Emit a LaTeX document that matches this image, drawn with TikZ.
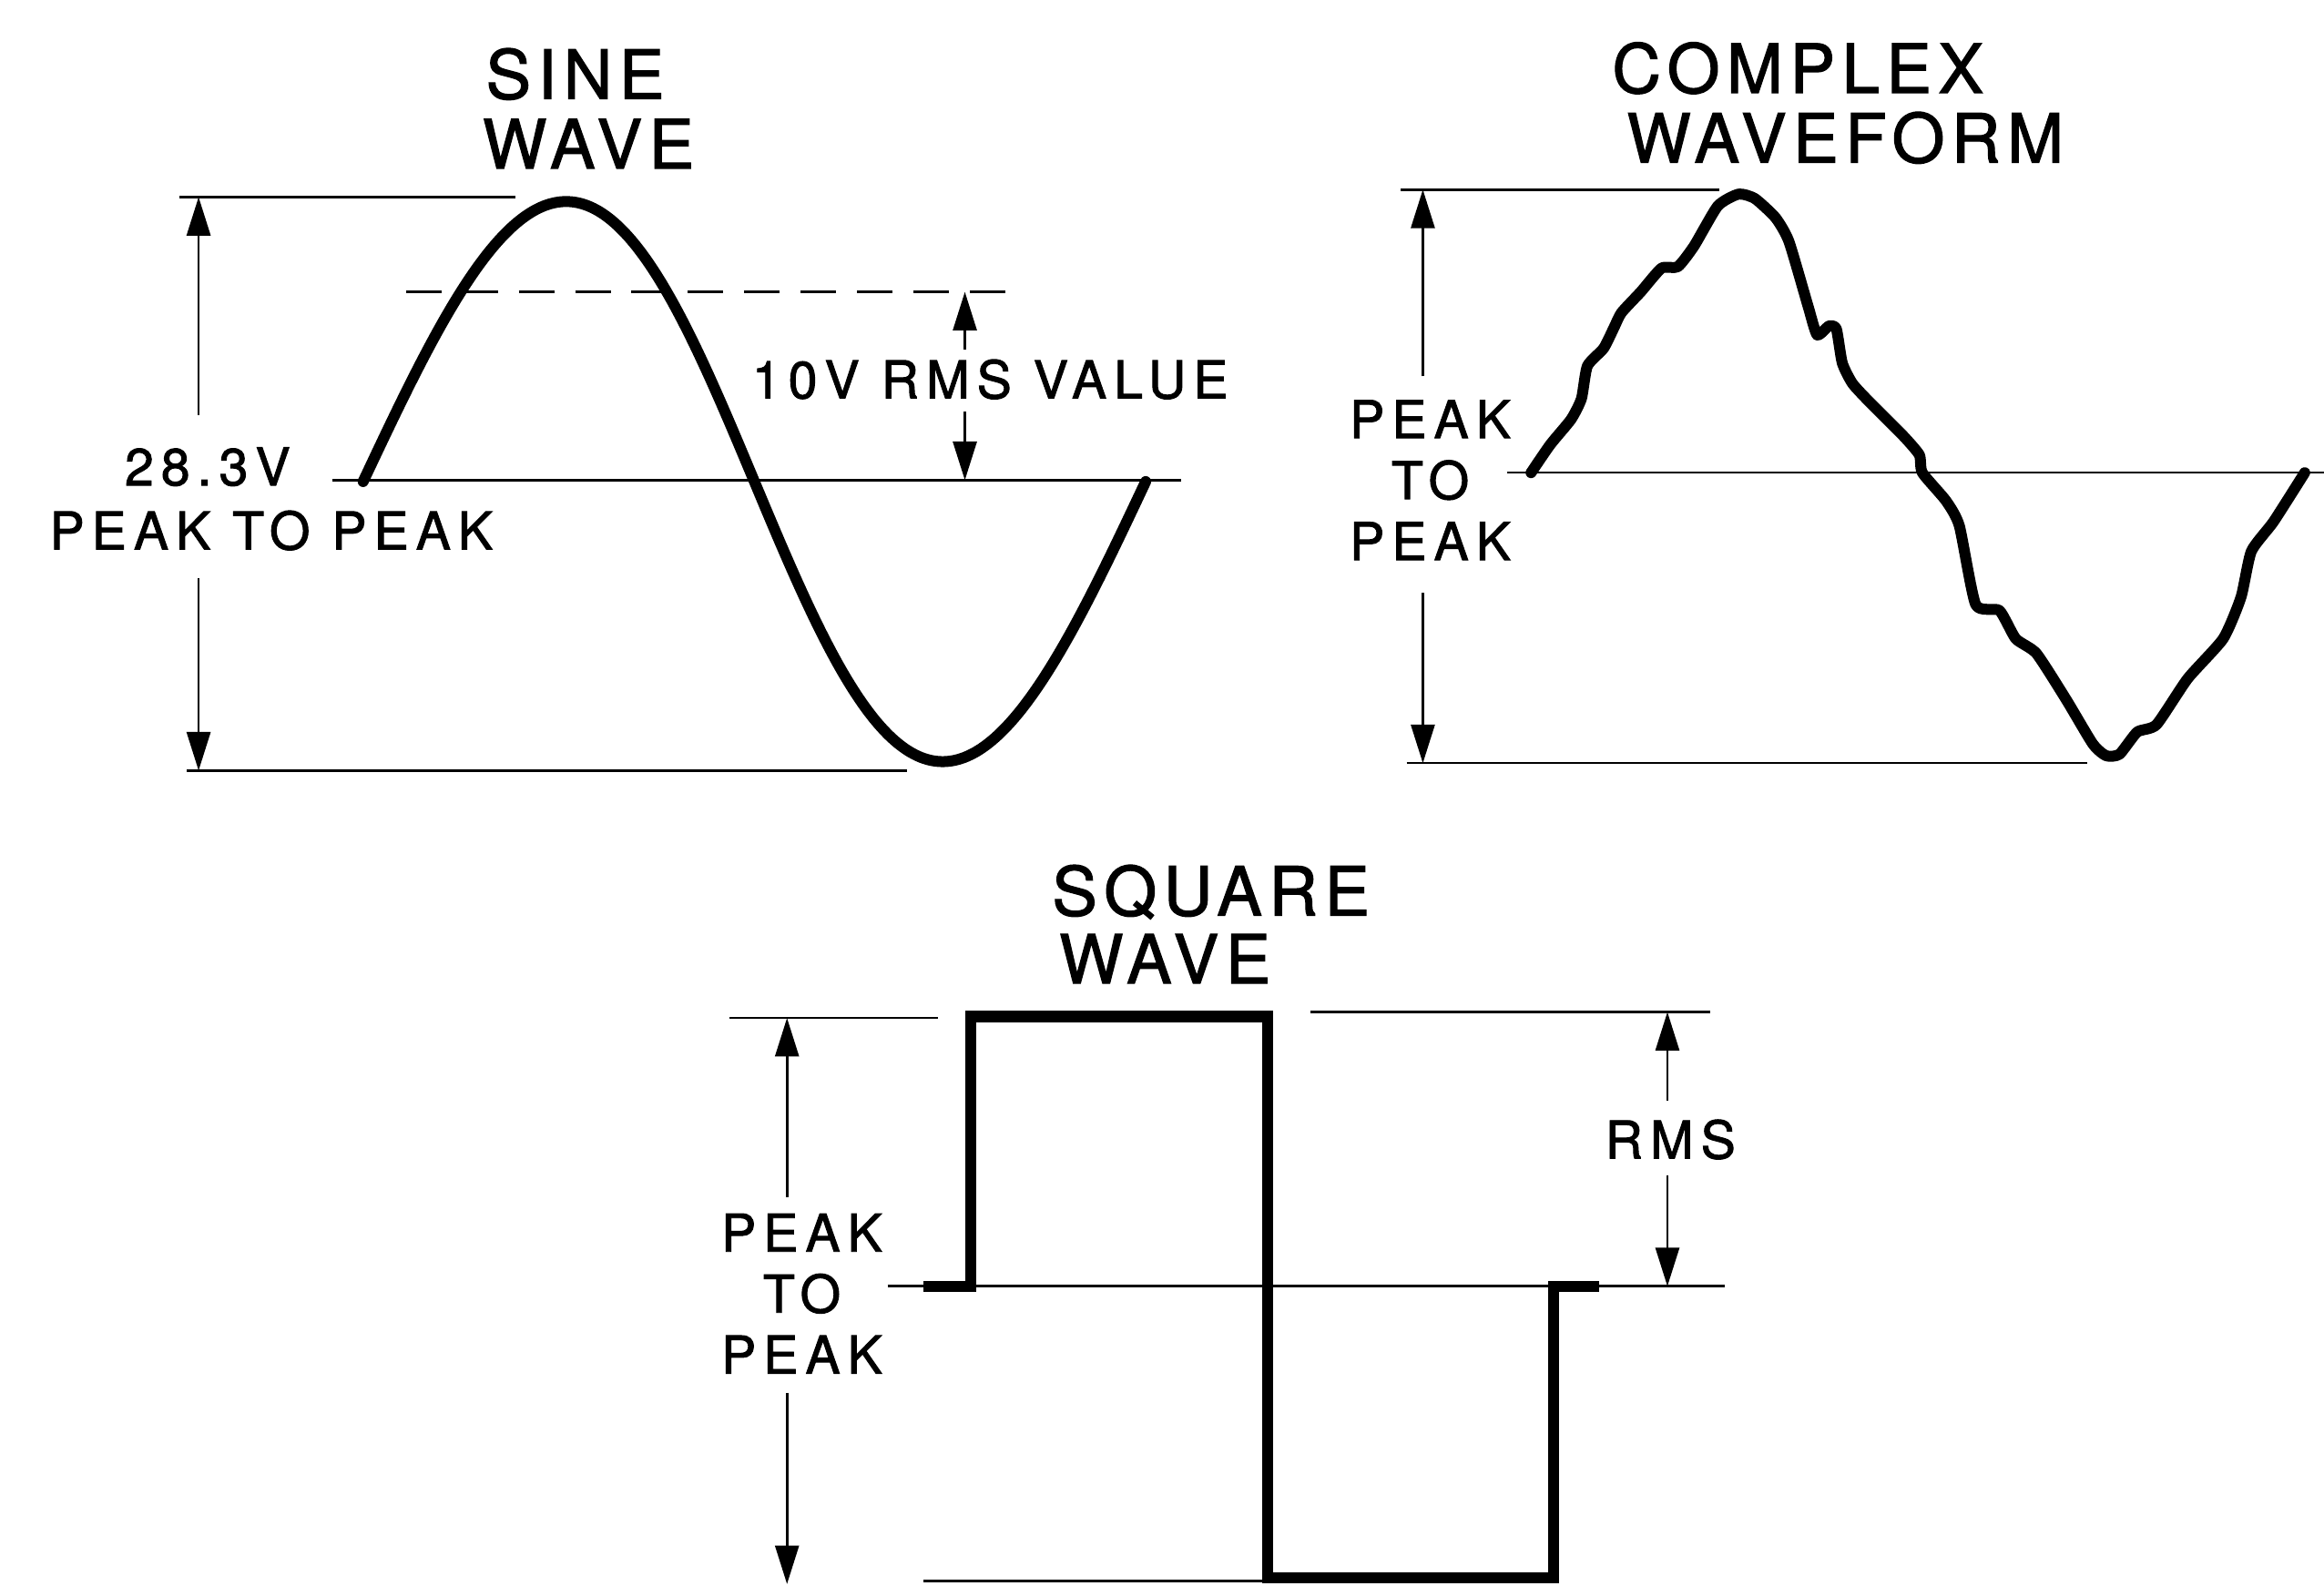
\documentclass[tikz,border=0pt]{standalone}
\usepackage{fontspec}
\setmainfont{TeX Gyre Heros}[LetterSpace=10, FakeBold=1.6]
\newfontfamily\lblfont{TeX Gyre Heros}[LetterSpace=14, FakeBold=1.6]
\usetikzlibrary{arrows.meta}
\tikzset{
  refline/.style={line width=0.45pt},
  dashline/.style={line width=0.45pt, dash pattern=on 0.24cm off 0.14cm},
  wave/.style={line width=2.1pt, line join=round, line cap=round},
  dimarrow/.style={line width=0.45pt, -{Triangle[length=0.26cm,width=0.16cm]}},
  ttl/.style={font=\fontsize{13}{14}\selectfont, inner sep=0pt},
  lbl/.style={font=\lblfont\fontsize{10}{11.7}\selectfont, inner sep=0pt, align=center},
}
\begin{document}
\begin{tikzpicture}[x=0.01cm,y=-0.01cm]
\useasboundingbox (0,0) rectangle (1568,1070);

% ---------------- SINE WAVE ----------------
\node[ttl] (sineT1) at (388,50) {SINE};
\node[ttl] (sineT2) at (397,97) {WAVE};
\node[lbl] (sinePPa) at (140,315) {28.3V};
\node[lbl] (sinePPb) at (183,358) {PEAK TO PEAK};
\node[lbl] (sineRMS) at (668,256) {10V RMS VALUE};

\coordinate (sTopL) at (121,133);  \coordinate (sTopR) at (348,133);
\coordinate (sBotL) at (126,520);  \coordinate (sBotR) at (612,520);
\coordinate (sAxL)  at (224,324);  \coordinate (sAxR)  at (797,324);
\coordinate (sDaL)  at (274,197);  \coordinate (sDaR)  at (691,197);
\coordinate (sPupS) at (134,280);  \coordinate (sPupE) at (134,133);
\coordinate (sPdnS) at (134,390);  \coordinate (sPdnE) at (134,520);
\coordinate (sRupS) at (651,236);  \coordinate (sRupE) at (651,197);
\coordinate (sRdnS) at (651,278);  \coordinate (sRdnE) at (651,324);

\draw[refline] (sTopL) -- (sTopR);
\draw[refline] (sBotL) -- (sBotR);
\draw[refline] (sAxL) -- (sAxR);
\draw[dashline] (sDaL) -- (sDaR);
\draw[dimarrow] (sPupS) -- (sPupE);
\draw[dimarrow] (sPdnS) -- (sPdnE);
\draw[dimarrow] (sRupS) -- (sRupE);
\draw[dimarrow] (sRdnS) -- (sRdnE);

\draw[wave] plot[variable=\t, domain=0:360, samples=145, smooth]
  ({245+1.46667*\t+5*sin(\t)},{325-189*sin(\t)});

% ---------------- COMPLEX WAVEFORM ----------------
\node[ttl] (cT1) at (1213,46) {COMPLEX};
\node[ttl] (cT2) at (1245,93) {WAVEFORM};
\node[lbl] (cPP) at (965,324) {PEAK\\TO\\PEAK};

\coordinate (cTopL) at (945,128);  \coordinate (cTopR) at (1160,128);
\coordinate (cAxL)  at (1017,319); \coordinate (cAxR)  at (1568,319);
\coordinate (cBotL) at (949,515);  \coordinate (cBotR) at (1408,515);
\coordinate (cUpS)  at (960,254);  \coordinate (cUpE)  at (960,128);
\coordinate (cDnS)  at (960,400);  \coordinate (cDnE)  at (960,515);

\draw[refline] (cTopL) -- (cTopR);
\draw[refline] (cAxL) -- (cAxR);
\draw[refline] (cBotL) -- (cBotR);
\draw[dimarrow] (cUpS) -- (cUpE);
\draw[dimarrow] (cDnS) -- (cDnE);

\draw[wave] plot[smooth, tension=0.35] coordinates {
  (1033,319) (1046,300) (1060,283) (1067,269) (1071,247) (1082,235)
  (1089,221) (1094,211) (1107,197) (1121,181) (1132,180) (1143,166)
  (1159,139) (1173,131) (1184,134) (1198,147) (1207,163) (1220,207)
  (1226,226) (1234,220) (1239,222) (1243,245) (1250,259) (1263,273)
  (1284,294) (1295,307) (1297,319) (1313,338) (1322,355) (1333,408)
  (1349,412) (1360,431) (1374,441) (1394,472) (1412,502) (1421,510)
  (1430,509) (1442,494) (1455,489) (1476,458) (1500,431) (1512,403)
  (1519,372) (1534,352) (1555,319)};

% ---------------- SQUARE WAVE ----------------
\node[ttl] (qT1) at (817,602) {SQUARE};
\node[ttl] (qT2) at (786,647) {WAVE};
\node[lbl] (qPP) at (541,873) {PEAK\\TO\\PEAK};
\node[lbl] (qRMS) at (1127,769) {RMS};

\coordinate (qTopLa) at (492,687);  \coordinate (qTopLb) at (633,687);
\coordinate (qTopRa) at (884,683);  \coordinate (qTopRb) at (1154,683);
\coordinate (qAxL)   at (599,868);  \coordinate (qAxR)   at (1164,868);
\coordinate (qBotL)  at (623,1067); \coordinate (qBotR)  at (852,1067);
\coordinate (qUpS)   at (531,808);  \coordinate (qUpE)   at (531,687);
\coordinate (qDnS)   at (531,940);  \coordinate (qDnE)   at (531,1069);
\coordinate (qRupS)  at (1125,743); \coordinate (qRupE)  at (1125,683);
\coordinate (qRdnS)  at (1125,793); \coordinate (qRdnE)  at (1125,868);

\draw[refline] (qTopLa) -- (qTopLb);
\draw[refline] (qTopRa) -- (qTopRb);
\draw[refline] (qAxL) -- (qAxR);
\draw[refline] (qBotL) -- (qBotR);
\draw[dimarrow] (qUpS) -- (qUpE);
\draw[dimarrow] (qDnS) -- (qDnE);
\draw[dimarrow] (qRupS) -- (qRupE);
\draw[dimarrow] (qRdnS) -- (qRdnE);

\draw[wave, line cap=butt, line join=miter] (623,868) -- (655,868) -- (655,686) -- (855,686)
  -- (855,1065) -- (1048,1065) -- (1048,868) -- (1079,868);
\end{tikzpicture}
\end{document}
